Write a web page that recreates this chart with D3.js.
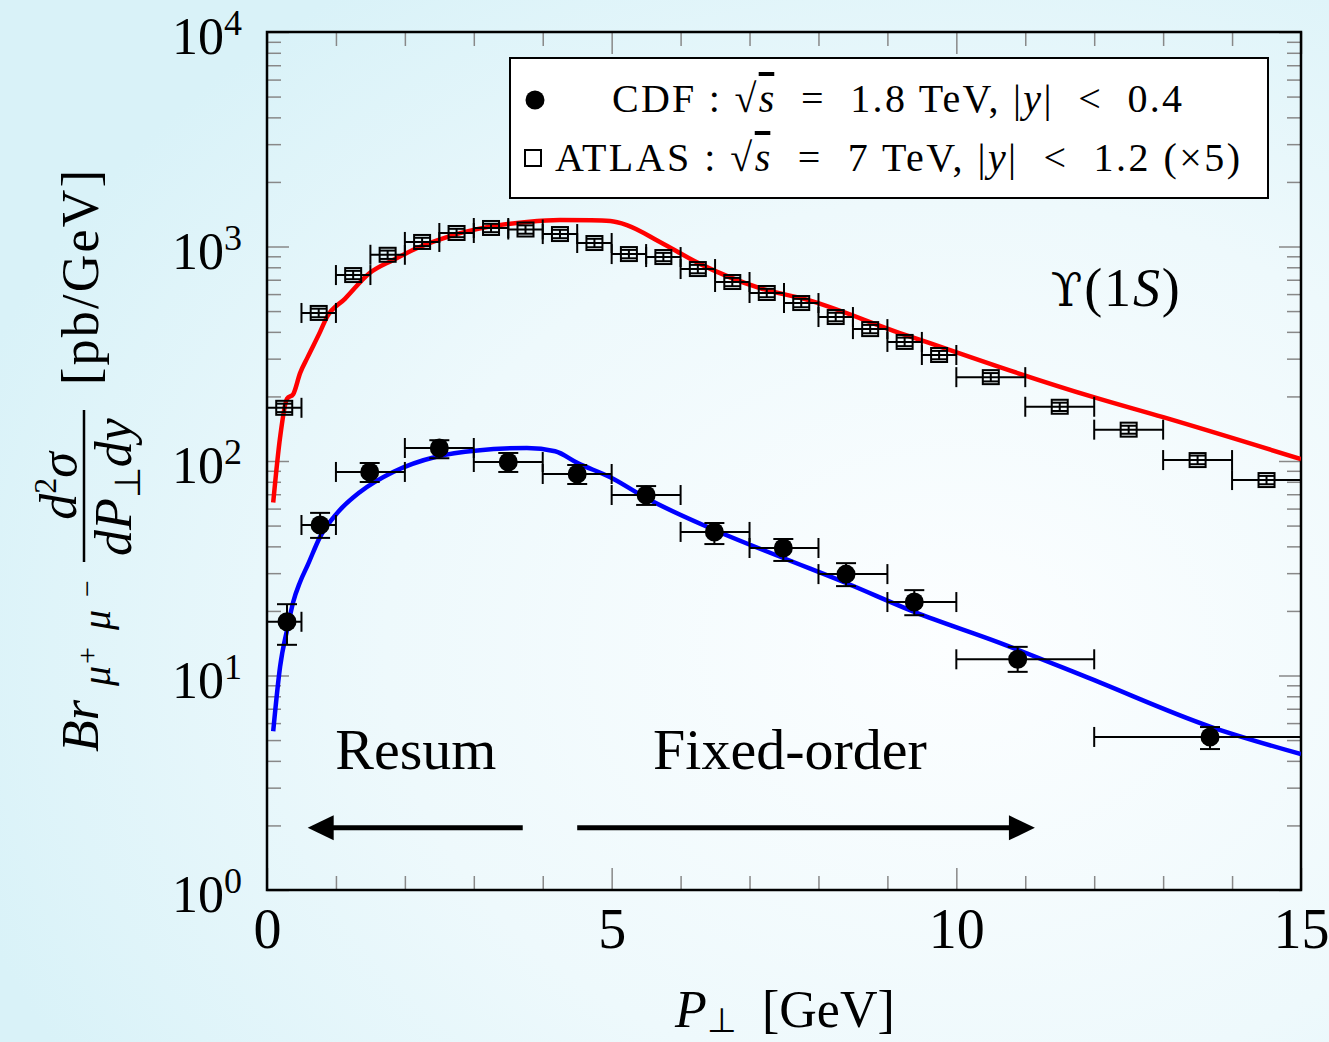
<!DOCTYPE html>
<html>
<head>
<meta charset="utf-8">
<script src="https://cdn.jsdelivr.net/npm/d3@7"></script>
<style>
  body { margin: 0; }
  text { font-family: "Liberation Serif", "Times New Roman", serif; fill: #000; }
  .tick line { stroke: #888; stroke-width: 1.5; }
  .domain { display: none; }
</style>
</head>
<body>
<div id="chart"></div>
<script>
// CDF data (filled circles): mean pT, bin edges, value, error band
var cdfX   = [0.29, 0.77, 1.49, 2.50, 3.50, 4.50, 5.50, 6.49, 7.49, 8.40, 9.39, 10.89, 13.68];
var cdfLo  = [0, 0.5, 1, 2, 3, 4, 5, 6, 7, 8, 9, 10, 12];
var cdfHi  = [0.5, 1, 2, 3, 4, 5, 6, 7, 8, 9, 10, 12, 15];
var cdfY   = [17.8, 50.3, 88.9, 115, 98.9, 87.0, 69.4, 46.7, 39.3, 29.7, 22.0, 11.9, 5.17];
var cdfErrUp = [21.5, 57.3, 97.9, 125, 109, 95.8, 76.4, 51.4, 43.3, 33.4, 25.0, 13.6, 5.75];
var cdfErrDn = [13.9, 43.8, 79.8, 103, 88.9, 78.1, 62.4, 41.0, 34.2, 26.1, 19.1, 10.4, 4.54];

// ATLAS data (open squares, x5)
var atlasLo = [0, 0.5, 1, 1.5, 2, 2.5, 3, 3.5, 4, 4.5, 5, 5.5, 6, 6.5, 7, 7.5, 8, 8.5, 9, 9.5, 10, 11, 12, 13, 14];
var atlasHi = [0.5, 1, 1.5, 2, 2.5, 3, 3.5, 4, 4.5, 5, 5.5, 6, 6.5, 7, 7.5, 8, 8.5, 9, 9.5, 10, 11, 12, 13, 14, 15];
var atlasY  = [177, 490, 736, 915, 1050, 1156, 1220, 1200, 1143, 1038, 922, 893, 785, 683, 607, 545, 469, 412, 359, 312, 246, 179, 140, 101, 81.5];
var atlasErrUp = [185, 513, 770, 957, 1098, 1209, 1276, 1255, 1196, 1086, 964, 934, 821, 714, 635, 570, 491, 431, 376, 326, 257, 187, 146, 106, 85.2];
var atlasErrDn = [169, 468, 704, 875, 1004, 1105, 1166, 1147, 1093, 992, 881, 854, 750, 653, 580, 521, 448, 394, 343, 298, 235, 171, 134, 96.6, 77.9];

// theory curves
var atlasCurve = [[0.09, 64], [0.19, 129], [0.29, 195], [0.38, 205], [0.48, 257], [0.59, 305], [0.77, 400],
  [0.87, 469], [1.13, 570], [1.49, 752], [1.83, 865], [2.18, 984], [2.61, 1107], [3.19, 1231], [3.77, 1300],
  [4.25, 1328], [4.70, 1325], [4.98, 1315], [5.22, 1259], [5.70, 1050], [6.28, 830], [7.15, 640], [7.83, 565], [9.18, 395],
  [9.91, 329], [10.63, 274], [11.98, 199], [13.0, 160], [15.0, 102]];
var cdfCurve = [[0.09, 5.5], [0.19, 11.0], [0.30, 16.8], [0.38, 22.0], [0.48, 27.3], [0.59, 32.7], [0.77, 44.3],
  [1.02, 57.3], [1.35, 71.7], [1.83, 88.9], [2.47, 105], [3.05, 112], [3.77, 115], [4.18, 111], [4.50, 98],
  [4.98, 84], [5.50, 67.2], [6.49, 47.7], [7.49, 35.3], [8.40, 27.0], [9.39, 19.8], [10.63, 14.2], [11.90, 9.8],
  [13.70, 5.75], [15.0, 4.3]];

var xMajor = [0, 5, 10, 15];
var xMinor = [1, 2, 3, 4, 6, 7, 8, 9, 11, 12, 13, 14];
var yMajor = [1, 10, 100, 1000, 10000];
var yExp = ["0", "1", "2", "3", "4"];

// Setting up the margins and the graph area
var W = 1329, H = 1042;
var margin = { top: 32, left: 267 },
    width = 1034,
    height = 858;

var svg = d3.select("#chart").append("svg")
    .attr("width", W)
    .attr("height", H);

// background gradient
var defs = svg.append("defs");
var grad = defs.append("radialGradient").attr("id", "bg")
    .attr("cx", "72%").attr("cy", "62%").attr("r", "78%");
grad.append("stop").attr("offset", "0%").attr("stop-color", "#fcfeff");
grad.append("stop").attr("offset", "55%").attr("stop-color", "#eef9fc");
grad.append("stop").attr("offset", "100%").attr("stop-color", "#d9f2f8");
svg.append("rect").attr("width", W).attr("height", H).attr("fill", "url(#bg)");

defs.append("clipPath").attr("id", "clip")
  .append("rect").attr("width", width).attr("height", height);

var g = svg.append("g")
    .attr("transform", "translate(" + margin.left + "," + margin.top + ")");

// scales
var x = d3.scaleLinear().domain([0, 15]).range([0, width]);
var y = d3.scaleLog().domain([1, 10000]).range([height, 0]);

// y minor tick values
var yMinor = [];
[1, 10, 100, 1000].forEach(function (d) {
    for (var k = 2; k <= 9; k++) yMinor.push(d * k);
});

// axes: ticks point inward on all four sides
g.append("g").attr("transform", "translate(0," + height + ")")
    .call(d3.axisBottom(x).tickValues(xMinor).tickSize(-14).tickFormat(""));
g.append("g").attr("class", "xmaj").attr("transform", "translate(0," + height + ")")
    .call(d3.axisBottom(x).tickValues(xMajor).tickSize(-22).tickPadding(18).tickFormat(d3.format("d")));
g.append("g").call(d3.axisTop(x).tickValues(xMinor).tickSize(-14).tickFormat(""));
g.append("g").call(d3.axisTop(x).tickValues(xMajor).tickSize(-22).tickFormat(""));
g.append("g").call(d3.axisLeft(y).tickValues(yMinor).tickSize(-14).tickFormat(""));
g.append("g").call(d3.axisLeft(y).tickValues(yMajor).tickSize(-22).tickFormat(""));
g.append("g").attr("transform", "translate(" + width + ",0)")
    .call(d3.axisRight(y).tickValues(yMinor).tickSize(-14).tickFormat(""));
g.append("g").attr("transform", "translate(" + width + ",0)")
    .call(d3.axisRight(y).tickValues(yMajor).tickSize(-22).tickFormat(""));

g.selectAll(".xmaj text").style("font-size", "56px");

// y tick labels 10^n
yMajor.forEach(function (d, i) {
    var t = g.append("text")
        .attr("x", -95)
        .attr("y", y(d) + 22)
        .style("font-size", "52px");
    t.append("tspan").text("10");
    t.append("tspan").attr("dy", -19).style("font-size", "36px").text(yExp[i]);
});

// frame
g.append("rect").attr("width", width).attr("height", height)
    .attr("fill", "none").attr("stroke", "#000").attr("stroke-width", 2.5);

var plot = g.append("g").attr("clip-path", "url(#clip)");

// theory curves
var line = d3.line()
    .x(function (d) { return x(d[0]); })
    .y(function (d) { return y(d[1]); })
    .curve(d3.curveMonotoneX);

plot.append("path").datum(atlasCurve)
    .attr("d", line).attr("fill", "none")
    .attr("stroke", "#ff0000").attr("stroke-width", 4.5).attr("stroke-linejoin", "round");
plot.append("path").datum(cdfCurve)
    .attr("d", line).attr("fill", "none")
    .attr("stroke", "#0000ff").attr("stroke-width", 4.5).attr("stroke-linejoin", "round");

// error bars helper
function errorBars(sel, xc, lo, hi, yc, up, dn, capW) {
    sel.each(function (d, i) {
        var e = d3.select(this);
        var cx = x(xc[i]), cy = y(yc[i]);
        // horizontal bin bar with end ticks
        e.append("line").attr("x1", x(lo[i])).attr("x2", x(hi[i])).attr("y1", cy).attr("y2", cy);
        e.append("line").attr("x1", x(lo[i])).attr("x2", x(lo[i])).attr("y1", cy - 10).attr("y2", cy + 10);
        e.append("line").attr("x1", x(hi[i])).attr("x2", x(hi[i])).attr("y1", cy - 10).attr("y2", cy + 10);
        // vertical error with caps
        e.append("line").attr("x1", cx).attr("x2", cx).attr("y1", y(up[i])).attr("y2", y(dn[i]));
        e.append("line").attr("x1", cx - capW).attr("x2", cx + capW).attr("y1", y(up[i])).attr("y2", y(up[i]));
        e.append("line").attr("x1", cx - capW).attr("x2", cx + capW).attr("y1", y(dn[i])).attr("y2", y(dn[i]));
    });
}

// ATLAS points
var atlasMid = atlasLo.map(function (d, i) { return (d + atlasHi[i]) / 2; });
var ag = plot.selectAll(".atlas").data(atlasY).enter().append("g")
    .attr("class", "atlas").attr("stroke", "#000").attr("stroke-width", 2);
errorBars(ag, atlasMid, atlasLo, atlasHi, atlasY, atlasErrUp, atlasErrDn, 8);
ag.append("rect")
    .attr("x", function (d, i) { return x(atlasMid[i]) - 8; })
    .attr("y", function (d) { return y(d) - 7; })
    .attr("width", 16).attr("height", 14)
    .attr("fill", "none");

// CDF points
var cg = plot.selectAll(".cdf").data(cdfY).enter().append("g")
    .attr("class", "cdf").attr("stroke", "#000").attr("stroke-width", 2);
errorBars(cg, cdfX, cdfLo, cdfHi, cdfY, cdfErrUp, cdfErrDn, 10);
cg.append("circle")
    .attr("cx", function (d, i) { return x(cdfX[i]); })
    .attr("cy", function (d) { return y(d); })
    .attr("r", 9.5).attr("fill", "#000").attr("stroke", "none");

// regime arrows
function arrow(x0, x1, yv) {
    var yy = y(yv), dir = x1 > x0 ? 1 : -1;
    var tip = x(x1);
    g.append("line").attr("x1", x(x0)).attr("x2", tip - dir * 20)
        .attr("y1", yy).attr("y2", yy).attr("stroke", "#000").attr("stroke-width", 5);
    g.append("path")
        .attr("d", "M" + tip + "," + yy + "L" + (tip - dir * 26) + "," + (yy - 12.5) +
            "L" + (tip - dir * 26) + "," + (yy + 12.5) + "Z")
        .attr("fill", "#000");
}
arrow(3.71, 0.59, 1.95);
arrow(4.50, 11.14, 1.95);

g.append("text").attr("x", x(0.99)).attr("y", y(3.66))
    .style("font-size", "58px").text("Resum");
g.append("text").attr("x", x(5.60)).attr("y", y(3.66))
    .style("font-size", "58px").text("Fixed-order");

// Upsilon label
var ups = g.append("text").attr("x", x(11.37)).attr("y", y(530)).style("font-size", "54px")
    .attr("textLength", 129).attr("lengthAdjust", "spacing");
ups.append("tspan").style("font-family", "DejaVu Serif").style("font-size", "46px").text("\u03D2");
ups.append("tspan").text("(1");
ups.append("tspan").style("font-style", "italic").text("S");
ups.append("tspan").text(")");

// legend
var lg = svg.append("g");
lg.append("rect").attr("x", 510).attr("y", 58).attr("width", 758).attr("height", 140)
    .attr("fill", "#fff").attr("stroke", "#000").attr("stroke-width", 2);
lg.append("circle").attr("cx", 535).attr("cy", 100).attr("r", 9.5).attr("fill", "#000");
lg.append("rect").attr("x", 525).attr("y", 150).attr("width", 16).attr("height", 16)
    .attr("fill", "none").attr("stroke", "#000").attr("stroke-width", 2);

function legendText(x0, y0, len, name, energy, ycut, extra) {
    var t = lg.append("text").attr("x", x0).attr("y", y0).style("font-size", "40px")
        .style("white-space", "pre")
        .attr("textLength", len).attr("lengthAdjust", "spacing");
    t.append("tspan").text(name + " : \u221A");
    t.append("tspan").style("font-style", "italic").style("text-decoration", "overline").text("s");
    t.append("tspan").text("  =  " + energy + " TeV, |");
    t.append("tspan").style("font-style", "italic").text("y");
    t.append("tspan").text("|  <  " + ycut + extra);
}
legendText(612, 112, 570, "CDF", "1.8", "0.4", "");
legendText(555, 171, 685, "ATLAS", "7", "1.2", " (\u00D75)");

// x axis title
var xt = svg.append("text").attr("x", 675).attr("y", 1027).style("font-size", "52px");
xt.append("tspan").style("font-style", "italic").text("P");
xt.append("tspan").attr("dy", 5).style("font-size", "34px").text("\u22A5");
xt.append("tspan").attr("x", 762).attr("dy", -5).text("[GeV]");

// y axis title (rotated, local x = -screen y)
var yl = svg.append("g").attr("transform", "translate(98,0) rotate(-90)");
yl.append("text").attr("x", -752).attr("y", 0).style("font-size", "52px")
    .style("font-style", "italic").text("Br");
yl.append("text").attr("x", -686).attr("y", 12).style("font-size", "40px")
    .style("font-style", "italic").text("\u03BC");
yl.append("text").attr("x", -664).attr("y", -1).style("font-size", "30px").text("+");
yl.append("text").attr("x", -630).attr("y", 12).style("font-size", "40px")
    .style("font-style", "italic").text("\u03BC");
yl.append("text").attr("x", -597).attr("y", -1).style("font-size", "30px").text("\u2212");
// fraction
var num = yl.append("text").attr("x", -486).attr("y", -22).attr("text-anchor", "middle")
    .style("font-size", "52px").style("font-style", "italic");
num.append("tspan").text("d");
num.append("tspan").attr("dy", -20).style("font-size", "32px").style("font-style", "normal").text("2");
num.append("tspan").attr("dy", 20).text("\u03C3");
yl.append("line").attr("x1", -562).attr("x2", -410).attr("y1", -14).attr("y2", -14)
    .attr("stroke", "#000").attr("stroke-width", 2.5);
var den = yl.append("text").attr("x", -487).attr("y", 33).attr("text-anchor", "middle")
    .style("font-size", "52px").style("font-style", "italic");
den.append("tspan").text("dP");
den.append("tspan").attr("dy", 9).style("font-size", "36px").style("font-style", "normal").text("\u22A5");
den.append("tspan").attr("dy", -9).text("dy");
yl.append("text").attr("x", -385).attr("y", 0).style("font-size", "52px")
    .attr("textLength", 215).attr("lengthAdjust", "spacing").text("[pb/GeV]");
</script>
</body>
</html>
